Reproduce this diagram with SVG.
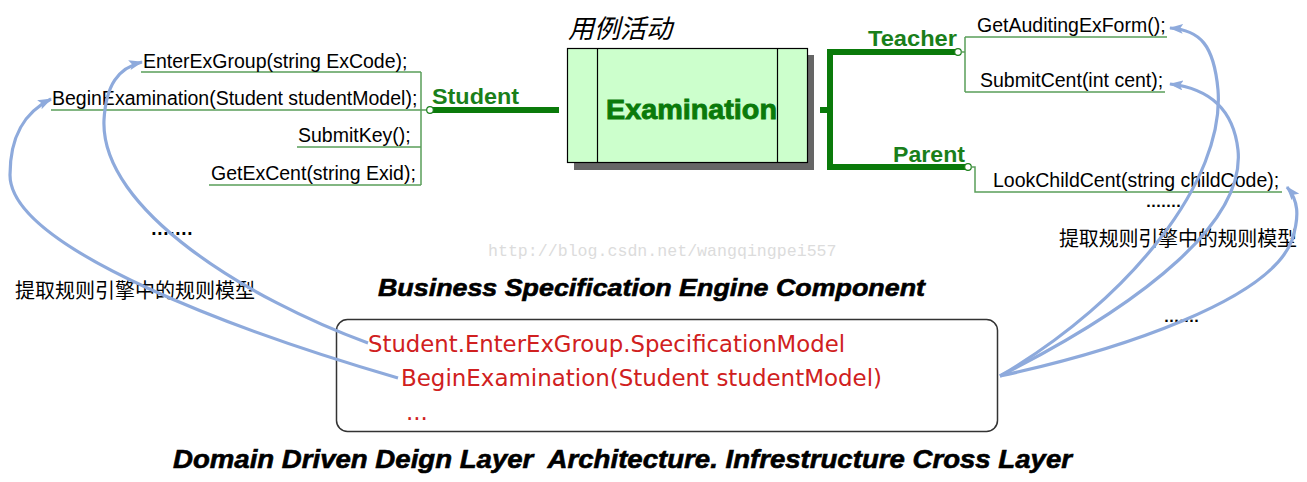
<svg xmlns="http://www.w3.org/2000/svg" width="1307" height="482" viewBox="0 0 1307 482">
<style>
.m{font-family:"Liberation Sans",Arial,sans-serif;font-size:19.5px;fill:#000}
.role{font-family:"Liberation Sans",Arial,sans-serif;font-size:22.5px;font-weight:bold;fill:#1a7f1a}
.thin{stroke:#5a9e5a;stroke-width:1.5;fill:none}
.thick{stroke:#0a7a0a;stroke-width:6;fill:none}
.dot{fill:#fff;stroke:#1a7f1a;stroke-width:1.2}
.cn{font-family:"Noto Sans CJK SC",sans-serif;font-size:20px;fill:#000}
.dots{font-family:"DejaVu Sans",sans-serif;font-weight:bold;fill:#000}
.red{font-family:"DejaVu Sans",Tahoma,sans-serif;font-size:23px;fill:#d02020}
.title{font-family:"Liberation Sans",Arial,sans-serif;font-weight:bold;font-style:italic;fill:#000;stroke:#000;stroke-width:0.6}
.arc{stroke:#8eaadc;stroke-width:3.2;fill:none}
</style>
<defs>
<marker id="ah" viewBox="0 0 14 10" markerWidth="14" markerHeight="10" refX="13" refY="5" orient="auto" markerUnits="userSpaceOnUse">
<path d="M0,0 L14,5 L0,10 L3,5 z" fill="#8eaadc"/>
</marker>
</defs>
<rect width="1307" height="482" fill="#fff"/>
<text x="488" y="256" font-family="Liberation Mono,monospace" font-size="16.6" fill="#dcdcdc">http://blog.csdn.net/wangqingpei557</text>

<g id="student-methods">
<path class="thin" d="M141,72 H421 M51,110 H427 M297,147 H421 M209,185 H421 M421,72 V185"/>
<text class="m" x="143" y="68">EnterExGroup(string ExCode);</text>
<text class="m" x="52" y="105">BeginExamination(Student studentModel);</text>
<text class="m" x="298" y="142">SubmitKey();</text>
<text class="m" x="211" y="180">GetExCent(string Exid);</text>
<text class="dots" x="151 157 163 169 175 181 187" y="235" font-size="15">.......</text>
</g>

<g id="student">
<line class="thick" x1="433" y1="110" x2="559" y2="110"/>
<circle class="dot" cx="430" cy="110" r="3.3"/>
<text class="role" x="432" y="104" textLength="87" lengthAdjust="spacingAndGlyphs">Student</text>
</g>

<g id="examination">
<text x="568" y="38" font-family="Noto Sans CJK SC,sans-serif" font-size="26" font-style="italic" fill="#000">用例活动</text>
<rect x="574" y="55" width="240" height="115" fill="#666"/>
<rect x="567.5" y="48.5" width="240" height="114" fill="#ccffcc" stroke="#000" stroke-width="1.2"/>
<line x1="597.5" y1="48.5" x2="597.5" y2="162.5" stroke="#000" stroke-width="1.2"/>
<line x1="777.5" y1="48.5" x2="777.5" y2="162.5" stroke="#000" stroke-width="1.2"/>
<text x="606" y="119" font-family="Liberation Sans,Arial,sans-serif" font-size="28.5" font-weight="bold" fill="#0a7a0a" stroke="#0a7a0a" stroke-width="0.9" textLength="171" lengthAdjust="spacingAndGlyphs">Examination</text>
</g>

<g id="roles-bracket">
<path class="thick" d="M820,110 H830 M830,52 V167 M827,52 H955 M827,167 H965"/>
</g>

<g id="teacher">
<circle class="dot" cx="958" cy="52" r="3.3"/>
<text class="role" x="868" y="46" textLength="89" lengthAdjust="spacingAndGlyphs">Teacher</text>
<path class="thin" d="M961,52 H965 M965,37 V92 M965,37 H1167 M965,92 H1165"/>
<text class="m" x="977" y="32">GetAuditingExForm();</text>
<text class="m" x="980" y="87">SubmitCent(int cent);</text>
</g>

<g id="parent">
<circle class="dot" cx="968" cy="167" r="3.3"/>
<text class="role" x="893" y="162" textLength="72" lengthAdjust="spacingAndGlyphs">Parent</text>
<path class="thin" d="M971,167 H975 V192 H1282"/>
<text class="m" x="993" y="187">LookChildCent(string childCode);</text>
<text class="dots" x="1146 1151 1156 1161 1166 1171 1176" y="207" font-size="13">.......</text>
</g>

<g id="labels">
<text class="cn" x="15" y="298">提取规则引擎中的规则模型</text>
<text class="cn" x="1059" y="246" textLength="238">提取规则引擎中的规则模型</text>
<text class="dots" x="1164 1169 1174 1179 1184 1189 1194" y="322" font-size="13">.......</text>
<text class="title" x="378" y="296" font-size="24" textLength="547" lengthAdjust="spacingAndGlyphs">Business Specification Engine Component</text>
<text class="title" x="173" y="468" font-size="26" xml:space="preserve" textLength="899" lengthAdjust="spacingAndGlyphs">Domain Driven Deign Layer  Architecture. Infrestructure Cross Layer</text>
</g>

<g id="rule-model">
<rect x="336.5" y="319.5" width="661" height="112" rx="11" fill="#fff" stroke="#333" stroke-width="1.5"/>
<text class="red" x="368" y="352" textLength="477" lengthAdjust="spacingAndGlyphs">Student.EnterExGroup.SpecificationModel</text>
<text class="red" x="401" y="386" textLength="481" lengthAdjust="spacingAndGlyphs">BeginExamination(Student studentModel)</text>
<text class="red" x="406" y="420">...</text>
</g>

<g id="connectors">
<path class="arc" marker-end="url(#ah)" d="M398,378 C250,335 10,250 10,175 C10,135 25,112 51,99"/>
<path class="arc" marker-end="url(#ah)" d="M368,343 C250,300 100,210 104,120 C106,85 118,68 142,62"/>
<path class="arc" marker-end="url(#ah)" d="M1000,376 C1130,300 1225,180 1218,90 C1214,45 1200,30 1170,28"/>
<path class="arc" marker-end="url(#ah)" d="M1000,376 C1150,300 1245,220 1238,150 C1233,105 1205,88 1170,84"/>
<path class="arc" marker-end="url(#ah)" d="M1000,376 C1120,350 1270,300 1292,240 C1300,215 1298,200 1287,187"/>
</g>
</svg>
